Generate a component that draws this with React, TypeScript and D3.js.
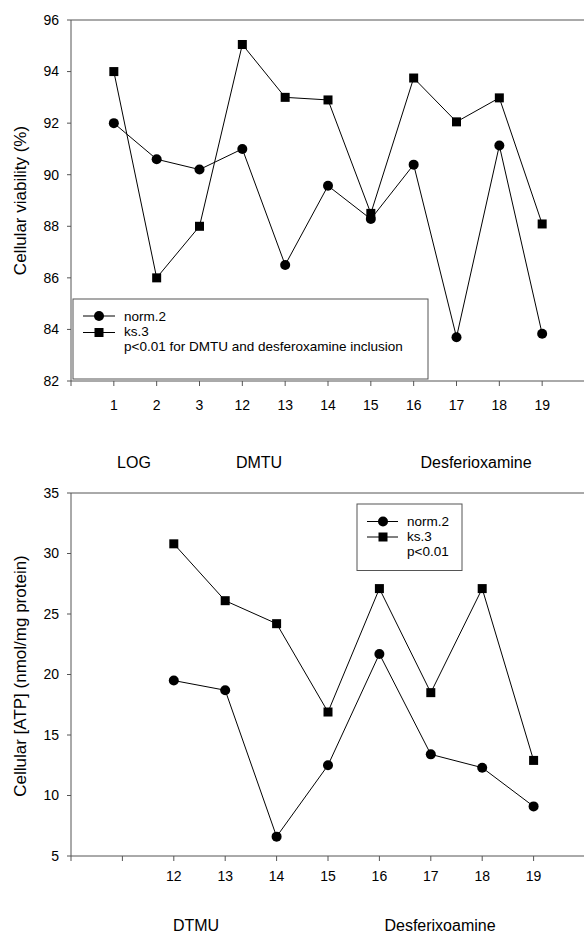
import React from "react";
import * as d3 from "d3";

const topLabels = ["1", "2", "3", "12", "13", "14", "15", "16", "17", "18", "19"];
const topNorm = [92.0, 90.6, 90.2, 91.0, 86.5, 89.57, 88.28, 90.39, 83.7, 91.13, 83.83];
const topKs = [94.0, 86.0, 88.0, 95.05, 93.0, 92.9, 88.5, 93.75, 92.05, 92.98, 88.09];
const topYTicks = [82, 84, 86, 88, 90, 92, 94, 96];

const botLabels = ["12", "13", "14", "15", "16", "17", "18", "19"];
const botNorm = [19.5, 18.7, 6.6, 12.5, 21.7, 13.4, 12.3, 9.1];
const botKs = [30.8, 26.1, 24.2, 16.9, 27.1, 18.5, 27.1, 12.9];
const botYTicks = [5, 10, 15, 20, 25, 30, 35];

const FONT = "'Liberation Sans', Arial, sans-serif";
const AX = "#555";

function Markers({ pts, kind }: { pts: [number, number][]; kind: "c" | "s" }) {
  const line = d3.line();
  return (
    <g>
      <path d={line(pts) || ""} fill="none" stroke="#000" strokeWidth={1} />
      {pts.map(([x, y], i) =>
        kind === "c" ? (
          <circle key={i} cx={x} cy={y} r={5} fill="#000" />
        ) : (
          <rect key={i} x={x - 4.5} y={y - 4.5} width={9} height={9} fill="#000" />
        )
      )}
    </g>
  );
}

export default function App() {
  const xT = d3.scaleLinear().domain([0, 12]).range([71, 585]);
  const yT = d3.scaleLinear().domain([82, 96]).range([381, 20]);
  const xB = d3.scaleLinear().domain([0, 10]).range([71, 585]);
  const yB = d3.scaleLinear().domain([5, 35]).range([856, 493]);

  const topNormPts = topNorm.map((v, i) => [xT(i + 1), yT(v)] as [number, number]);
  const topKsPts = topKs.map((v, i) => [xT(i + 1), yT(v)] as [number, number]);
  const botNormPts = botNorm.map((v, i) => [xB(i + 2), yB(v)] as [number, number]);
  const botKsPts = botKs.map((v, i) => [xB(i + 2), yB(v)] as [number, number]);

  const topXTickIdx = d3.range(0, 12);
  const botXTickIdx = d3.range(0, 10);

  return (
    <div style={{ position: "absolute", left: 0, top: 0 }}>
      <svg width={584} height={936} style={{ display: "block", background: "#fff" }} fontFamily={FONT}>
        <rect x={0} y={0} width={584} height={936} fill="#fff" />
        {/* ---------- TOP CHART ---------- */}
        <g>
          <line x1={xT(0)} x2={584} y1={yT(96)} y2={yT(96)} stroke={AX} />
          <line x1={xT(0)} x2={xT(0)} y1={yT(96)} y2={yT(82)} stroke={AX} />
          <line x1={xT(0)} x2={584} y1={yT(82)} y2={yT(82)} stroke={AX} />
          {topYTicks.map((t) => (
            <g key={t}>
              <line x1={xT(0) - 4} x2={xT(0)} y1={yT(t)} y2={yT(t)} stroke={AX} />
              <text x={xT(0) - 12} y={yT(t)} dy="0.35em" textAnchor="end" fontSize={14}>
                {t}
              </text>
            </g>
          ))}
          {topXTickIdx.map((i) => (
            <line key={i} x1={xT(i)} x2={xT(i)} y1={yT(82)} y2={yT(82) + 5} stroke={AX} />
          ))}
          {topLabels.map((l, i) => (
            <text key={l} x={xT(i + 1)} y={405} dy="0.35em" textAnchor="middle" fontSize={14}>
              {l}
            </text>
          ))}
          <text
            transform={`translate(20,${(yT(96) + yT(82)) / 2}) rotate(-90)`}
            textAnchor="middle"
            dy="0.35em"
            fontSize={17}
          >
            Cellular viability (%)
          </text>
          {/* legend */}
          <rect x={73} y={299} width={355} height={80} fill="#fff" stroke={AX} />
          <Markers pts={topKsPts} kind="s" />
          <Markers pts={topNormPts} kind="c" />
          <line x1={83} x2={115} y1={316} y2={316} stroke="#000" />
          <circle cx={99} cy={316} r={5} fill="#000" />
          <line x1={83} x2={115} y1={332.5} y2={332.5} stroke="#000" />
          <rect x={94.5} y={328} width={9} height={9} fill="#000" />
          <text x={124} y={316} dy="0.35em" fontSize={13.5}>norm.2</text>
          <text x={124} y={331} dy="0.35em" fontSize={13.5}>ks.3</text>
          <text x={124} y={346} dy="0.35em" fontSize={13.5}>
            p&lt;0.01 for DMTU and desferoxamine inclusion
          </text>
          {/* group labels */}
          <text x={134} y={462} dy="0.35em" textAnchor="middle" fontSize={16}>LOG</text>
          <text x={259} y={462} dy="0.35em" textAnchor="middle" fontSize={16}>DMTU</text>
          <text x={476} y={462} dy="0.35em" textAnchor="middle" fontSize={16}>Desferioxamine</text>
        </g>

        {/* ---------- BOTTOM CHART ---------- */}
        <g>
          <line x1={xB(0)} x2={584} y1={yB(35)} y2={yB(35)} stroke={AX} />
          <line x1={xB(0)} x2={xB(0)} y1={yB(35)} y2={yB(5)} stroke={AX} />
          <line x1={xB(0)} x2={584} y1={yB(5)} y2={yB(5)} stroke={AX} />
          {botYTicks.map((t) => (
            <g key={t}>
              <line x1={xB(0) - 4} x2={xB(0)} y1={yB(t)} y2={yB(t)} stroke={AX} />
              <text x={xB(0) - 12} y={yB(t)} dy="0.35em" textAnchor="end" fontSize={14}>
                {t}
              </text>
            </g>
          ))}
          {botXTickIdx.map((i) => (
            <line key={i} x1={xB(i)} x2={xB(i)} y1={yB(5)} y2={yB(5) + 5} stroke={AX} />
          ))}
          {botLabels.map((l, i) => (
            <text key={l} x={xB(i + 2)} y={876} dy="0.35em" textAnchor="middle" fontSize={14}>
              {l}
            </text>
          ))}
          <text
            transform={`translate(20,676) rotate(-90)`}
            textAnchor="middle"
            dy="0.35em"
            fontSize={17}
          >
            Cellular [ATP] (nmol/mg protein)
          </text>
          <Markers pts={botKsPts} kind="s" />
          <Markers pts={botNormPts} kind="c" />
          {/* legend */}
          <rect x={357} y={504} width={105} height={66.5} fill="#fff" stroke={AX} />
          <line x1={367} x2={398} y1={521.5} y2={521.5} stroke="#000" />
          <circle cx={383} cy={521.5} r={5} fill="#000" />
          <line x1={367} x2={398} y1={537} y2={537} stroke="#000" />
          <rect x={378.5} y={532.5} width={9} height={9} fill="#000" />
          <text x={407} y={521.5} dy="0.35em" fontSize={13.5}>norm.2</text>
          <text x={407} y={536} dy="0.35em" fontSize={13.5}>ks.3</text>
          <text x={407} y={551} dy="0.35em" fontSize={13.5}>p&lt;0.01</text>
          {/* group labels */}
          <text x={196} y={925} dy="0.35em" textAnchor="middle" fontSize={16}>DTMU</text>
          <text x={440} y={925} dy="0.35em" textAnchor="middle" fontSize={16}>Desferixoamine</text>
        </g>
      </svg>
    </div>
  );
}
